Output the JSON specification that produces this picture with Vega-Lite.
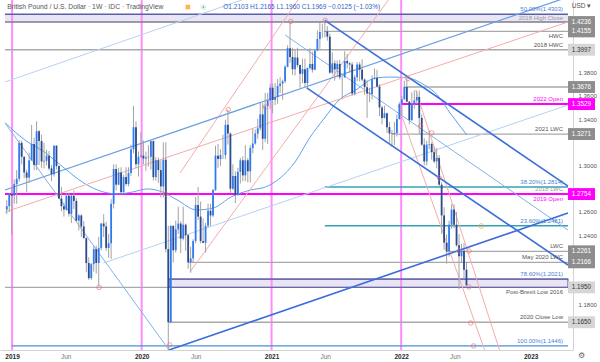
{
"$schema": "https://vega.github.io/schema/vega-lite/v6.json",
"width": 573,
"height": 350,
"autosize": {"type": "none"},
"padding": {"left": 0, "top": 0, "right": 27, "bottom": 12},
"background": "#ffffff",
"config": {"view": {"stroke": null}, "font": "Liberation Sans", "axis": {"grid": false}},
"resolve": {"axis": {"x": "independent", "y": "independent"}},
"datasets": {
"candles": [
{"d":"2018-12-17","o":1.2620,"h":1.2700,"l":1.2580,"c":1.2650},
{"d":"2018-12-24","o":1.2650,"h":1.2760,"l":1.2600,"c":1.2754},
{"d":"2018-12-31","o":1.2754,"h":1.2815,"l":1.2405,"c":1.2740},
{"d":"2019-01-07","o":1.2740,"h":1.2880,"l":1.2670,"c":1.2840},
{"d":"2019-01-14","o":1.2840,"h":1.2960,"l":1.2670,"c":1.2885},
{"d":"2019-01-21","o":1.2885,"h":1.3218,"l":1.2860,"c":1.3195},
{"d":"2019-01-28","o":1.3195,"h":1.3215,"l":1.3010,"c":1.3075},
{"d":"2019-02-04","o":1.3075,"h":1.3080,"l":1.2890,"c":1.2940},
{"d":"2019-02-11","o":1.2940,"h":1.2965,"l":1.2773,"c":1.2895},
{"d":"2019-02-18","o":1.2895,"h":1.3110,"l":1.2850,"c":1.3045},
{"d":"2019-02-25","o":1.3045,"h":1.3350,"l":1.3040,"c":1.3185},
{"d":"2019-03-04","o":1.3185,"h":1.3240,"l":1.2960,"c":1.3005},
{"d":"2019-03-11","o":1.3005,"h":1.3381,"l":1.2960,"c":1.3295},
{"d":"2019-03-18","o":1.3295,"h":1.3305,"l":1.3005,"c":1.3210},
{"d":"2019-03-25","o":1.3210,"h":1.3265,"l":1.2980,"c":1.3035},
{"d":"2019-04-01","o":1.3035,"h":1.3195,"l":1.2975,"c":1.3040},
{"d":"2019-04-08","o":1.3040,"h":1.3135,"l":1.3000,"c":1.3085},
{"d":"2019-04-15","o":1.3085,"h":1.3125,"l":1.2960,"c":1.2975},
{"d":"2019-04-22","o":1.2975,"h":1.3005,"l":1.2865,"c":1.2925},
{"d":"2019-04-29","o":1.2925,"h":1.3175,"l":1.2905,"c":1.3170},
{"d":"2019-05-06","o":1.3170,"h":1.3175,"l":1.2965,"c":1.2995},
{"d":"2019-05-13","o":1.2995,"h":1.3000,"l":1.2710,"c":1.2715},
{"d":"2019-05-20","o":1.2715,"h":1.2815,"l":1.2605,"c":1.2650},
{"d":"2019-05-27","o":1.2650,"h":1.2680,"l":1.2560,"c":1.2620},
{"d":"2019-06-03","o":1.2620,"h":1.2765,"l":1.2610,"c":1.2740},
{"d":"2019-06-10","o":1.2740,"h":1.2765,"l":1.2560,"c":1.2585},
{"d":"2019-06-17","o":1.2585,"h":1.2745,"l":1.2505,"c":1.2740},
{"d":"2019-06-24","o":1.2740,"h":1.2785,"l":1.2625,"c":1.2695},
{"d":"2019-07-01","o":1.2695,"h":1.2720,"l":1.2520,"c":1.2525},
{"d":"2019-07-08","o":1.2525,"h":1.2580,"l":1.2440,"c":1.2570},
{"d":"2019-07-15","o":1.2570,"h":1.2580,"l":1.2385,"c":1.2475},
{"d":"2019-07-22","o":1.2475,"h":1.2520,"l":1.2370,"c":1.2375},
{"d":"2019-07-29","o":1.2375,"h":1.2380,"l":1.2080,"c":1.2160},
{"d":"2019-08-05","o":1.2160,"h":1.2210,"l":1.2015,"c":1.2030},
{"d":"2019-08-12","o":1.2030,"h":1.2160,"l":1.2015,"c":1.2150},
{"d":"2019-08-19","o":1.2150,"h":1.2310,"l":1.2085,"c":1.2280},
{"d":"2019-08-26","o":1.2280,"h":1.2310,"l":1.2070,"c":1.2160},
{"d":"2019-09-02","o":1.2160,"h":1.2385,"l":1.1959,"c":1.2290},
{"d":"2019-09-09","o":1.2290,"h":1.2505,"l":1.2270,"c":1.2500},
{"d":"2019-09-16","o":1.2500,"h":1.2580,"l":1.2385,"c":1.2475},
{"d":"2019-09-23","o":1.2475,"h":1.2515,"l":1.2265,"c":1.2290},
{"d":"2019-09-30","o":1.2290,"h":1.2410,"l":1.2205,"c":1.2330},
{"d":"2019-10-07","o":1.2330,"h":1.2710,"l":1.2195,"c":1.2670},
{"d":"2019-10-14","o":1.2670,"h":1.3010,"l":1.2630,"c":1.2970},
{"d":"2019-10-21","o":1.2970,"h":1.3010,"l":1.2785,"c":1.2835},
{"d":"2019-10-28","o":1.2835,"h":1.2980,"l":1.2830,"c":1.2940},
{"d":"2019-11-04","o":1.2940,"h":1.2985,"l":1.2765,"c":1.2770},
{"d":"2019-11-11","o":1.2770,"h":1.2920,"l":1.2765,"c":1.2900},
{"d":"2019-11-18","o":1.2900,"h":1.2985,"l":1.2825,"c":1.2840},
{"d":"2019-11-25","o":1.2840,"h":1.2985,"l":1.2820,"c":1.2935},
{"d":"2019-12-02","o":1.2935,"h":1.3180,"l":1.2910,"c":1.3140},
{"d":"2019-12-09","o":1.3140,"h":1.3514,"l":1.3105,"c":1.3330},
{"d":"2019-12-16","o":1.3330,"h":1.3380,"l":1.2975,"c":1.3010},
{"d":"2019-12-23","o":1.3010,"h":1.3120,"l":1.2905,"c":1.3075},
{"d":"2019-12-30","o":1.3075,"h":1.3285,"l":1.3070,"c":1.3085},
{"d":"2020-01-06","o":1.3085,"h":1.3215,"l":1.3010,"c":1.3060},
{"d":"2020-01-13","o":1.3060,"h":1.3120,"l":1.2955,"c":1.3070},
{"d":"2020-01-20","o":1.3070,"h":1.3175,"l":1.2990,"c":1.3075},
{"d":"2020-01-27","o":1.3075,"h":1.3215,"l":1.2965,"c":1.3210},
{"d":"2020-02-03","o":1.3210,"h":1.3215,"l":1.2870,"c":1.2900},
{"d":"2020-02-10","o":1.2900,"h":1.3070,"l":1.2870,"c":1.3045},
{"d":"2020-02-17","o":1.3045,"h":1.3070,"l":1.2850,"c":1.2960},
{"d":"2020-02-24","o":1.2960,"h":1.3045,"l":1.2725,"c":1.2820},
{"d":"2020-03-02","o":1.2820,"h":1.3200,"l":1.2725,"c":1.3050},
{"d":"2020-03-09","o":1.3050,"h":1.3200,"l":1.2250,"c":1.2280},
{"d":"2020-03-16","o":1.2280,"h":1.2480,"l":1.1409,"c":1.1650},
{"d":"2020-03-23","o":1.1650,"h":1.2485,"l":1.1640,"c":1.2480},
{"d":"2020-03-30","o":1.2480,"h":1.2485,"l":1.2165,"c":1.2270},
{"d":"2020-04-06","o":1.2270,"h":1.2525,"l":1.2250,"c":1.2450},
{"d":"2020-04-13","o":1.2450,"h":1.2645,"l":1.2410,"c":1.2500},
{"d":"2020-04-20","o":1.2500,"h":1.2520,"l":1.2245,"c":1.2370},
{"d":"2020-04-27","o":1.2370,"h":1.2645,"l":1.2355,"c":1.2490},
{"d":"2020-05-04","o":1.2490,"h":1.2500,"l":1.2265,"c":1.2400},
{"d":"2020-05-11","o":1.2400,"h":1.2410,"l":1.2110,"c":1.2166},
{"d":"2020-05-18","o":1.2166,"h":1.2300,"l":1.2076,"c":1.2200},
{"d":"2020-05-25","o":1.2200,"h":1.2365,"l":1.2160,"c":1.2350},
{"d":"2020-06-01","o":1.2350,"h":1.2730,"l":1.2330,"c":1.2660},
{"d":"2020-06-08","o":1.2660,"h":1.2815,"l":1.2530,"c":1.2560},
{"d":"2020-06-15","o":1.2560,"h":1.2690,"l":1.2330,"c":1.2350},
{"d":"2020-06-22","o":1.2350,"h":1.2545,"l":1.2330,"c":1.2335},
{"d":"2020-06-29","o":1.2335,"h":1.2505,"l":1.2250,"c":1.2480},
{"d":"2020-07-06","o":1.2480,"h":1.2670,"l":1.2465,"c":1.2610},
{"d":"2020-07-13","o":1.2610,"h":1.2670,"l":1.2480,"c":1.2570},
{"d":"2020-07-20","o":1.2570,"h":1.2800,"l":1.2555,"c":1.2790},
{"d":"2020-07-27","o":1.2790,"h":1.3170,"l":1.2780,"c":1.3085},
{"d":"2020-08-03","o":1.3085,"h":1.3185,"l":1.2980,"c":1.3055},
{"d":"2020-08-10","o":1.3055,"h":1.3140,"l":1.2995,"c":1.3090},
{"d":"2020-08-17","o":1.3090,"h":1.3265,"l":1.3055,"c":1.3090},
{"d":"2020-08-24","o":1.3090,"h":1.3395,"l":1.3055,"c":1.3350},
{"d":"2020-08-31","o":1.3350,"h":1.3482,"l":1.3180,"c":1.3275},
{"d":"2020-09-07","o":1.3275,"h":1.3285,"l":1.2765,"c":1.2800},
{"d":"2020-09-14","o":1.2800,"h":1.3010,"l":1.2790,"c":1.2910},
{"d":"2020-09-21","o":1.2910,"h":1.2950,"l":1.2676,"c":1.2745},
{"d":"2020-09-28","o":1.2745,"h":1.2980,"l":1.2740,"c":1.2945},
{"d":"2020-10-05","o":1.2945,"h":1.3065,"l":1.2845,"c":1.3045},
{"d":"2020-10-12","o":1.3045,"h":1.3080,"l":1.2865,"c":1.2915},
{"d":"2020-10-19","o":1.2915,"h":1.3175,"l":1.2865,"c":1.3045},
{"d":"2020-10-26","o":1.3045,"h":1.3065,"l":1.2855,"c":1.2950},
{"d":"2020-11-02","o":1.2950,"h":1.3175,"l":1.2855,"c":1.3150},
{"d":"2020-11-09","o":1.3150,"h":1.3315,"l":1.3105,"c":1.3190},
{"d":"2020-11-16","o":1.3190,"h":1.3310,"l":1.3180,"c":1.3275},
{"d":"2020-11-23","o":1.3275,"h":1.3400,"l":1.3230,"c":1.3320},
{"d":"2020-11-30","o":1.3320,"h":1.3540,"l":1.3300,"c":1.3440},
{"d":"2020-12-07","o":1.3440,"h":1.3540,"l":1.3135,"c":1.3230},
{"d":"2020-12-14","o":1.3230,"h":1.3625,"l":1.3200,"c":1.3510},
{"d":"2020-12-21","o":1.3510,"h":1.3625,"l":1.3185,"c":1.3560},
{"d":"2020-12-28","o":1.3560,"h":1.3705,"l":1.3485,"c":1.3670},
{"d":"2021-01-04","o":1.3670,"h":1.3705,"l":1.3450,"c":1.3565},
{"d":"2021-01-11","o":1.3565,"h":1.3710,"l":1.3520,"c":1.3590},
{"d":"2021-01-18","o":1.3590,"h":1.3745,"l":1.3530,"c":1.3685},
{"d":"2021-01-25","o":1.3685,"h":1.3760,"l":1.3625,"c":1.3705},
{"d":"2021-02-01","o":1.3705,"h":1.3740,"l":1.3565,"c":1.3725},
{"d":"2021-02-08","o":1.3725,"h":1.3865,"l":1.3710,"c":1.3850},
{"d":"2021-02-15","o":1.3850,"h":1.4035,"l":1.3845,"c":1.4010},
{"d":"2021-02-22","o":1.4010,"h":1.4241,"l":1.3885,"c":1.3935},
{"d":"2021-03-01","o":1.3935,"h":1.4015,"l":1.3780,"c":1.3830},
{"d":"2021-03-08","o":1.3830,"h":1.4000,"l":1.3775,"c":1.3930},
{"d":"2021-03-15","o":1.3930,"h":1.4015,"l":1.3845,"c":1.3865},
{"d":"2021-03-22","o":1.3865,"h":1.3870,"l":1.3670,"c":1.3790},
{"d":"2021-03-29","o":1.3790,"h":1.3920,"l":1.3710,"c":1.3830},
{"d":"2021-04-05","o":1.3830,"h":1.3920,"l":1.3670,"c":1.3710},
{"d":"2021-04-12","o":1.3710,"h":1.3845,"l":1.3669,"c":1.3840},
{"d":"2021-04-19","o":1.3840,"h":1.4010,"l":1.3825,"c":1.3875},
{"d":"2021-04-26","o":1.3875,"h":1.3980,"l":1.3800,"c":1.3825},
{"d":"2021-05-03","o":1.3825,"h":1.4000,"l":1.3820,"c":1.3990},
{"d":"2021-05-10","o":1.3990,"h":1.4165,"l":1.3985,"c":1.4090},
{"d":"2021-05-17","o":1.4090,"h":1.4235,"l":1.4005,"c":1.4150},
{"d":"2021-05-24","o":1.4150,"h":1.4220,"l":1.4100,"c":1.4150},
{"d":"2021-05-31","o":1.4150,"h":1.4250,"l":1.4105,"c":1.4155},
{"d":"2021-06-07","o":1.4155,"h":1.4200,"l":1.4075,"c":1.4110},
{"d":"2021-06-14","o":1.4110,"h":1.4135,"l":1.3790,"c":1.3800},
{"d":"2021-06-21","o":1.3800,"h":1.3975,"l":1.3785,"c":1.3880},
{"d":"2021-06-28","o":1.3880,"h":1.3905,"l":1.3730,"c":1.3830},
{"d":"2021-07-05","o":1.3830,"h":1.3905,"l":1.3760,"c":1.3875},
{"d":"2021-07-12","o":1.3875,"h":1.3910,"l":1.3740,"c":1.3760},
{"d":"2021-07-19","o":1.3760,"h":1.3785,"l":1.3570,"c":1.3760},
{"d":"2021-07-26","o":1.3760,"h":1.3985,"l":1.3755,"c":1.3900},
{"d":"2021-08-02","o":1.3900,"h":1.3960,"l":1.3835,"c":1.3880},
{"d":"2021-08-09","o":1.3880,"h":1.3890,"l":1.3800,"c":1.3870},
{"d":"2021-08-16","o":1.3870,"h":1.3890,"l":1.3600,"c":1.3620},
{"d":"2021-08-23","o":1.3620,"h":1.3780,"l":1.3605,"c":1.3760},
{"d":"2021-08-30","o":1.3760,"h":1.3890,"l":1.3725,"c":1.3870},
{"d":"2021-09-06","o":1.3870,"h":1.3890,"l":1.3725,"c":1.3825},
{"d":"2021-09-13","o":1.3825,"h":1.3915,"l":1.3725,"c":1.3740},
{"d":"2021-09-20","o":1.3740,"h":1.3750,"l":1.3610,"c":1.3675},
{"d":"2021-09-27","o":1.3675,"h":1.3735,"l":1.3410,"c":1.3620},
{"d":"2021-10-04","o":1.3620,"h":1.3670,"l":1.3545,"c":1.3615},
{"d":"2021-10-11","o":1.3615,"h":1.3775,"l":1.3570,"c":1.3745},
{"d":"2021-10-18","o":1.3745,"h":1.3835,"l":1.3740,"c":1.3755},
{"d":"2021-10-25","o":1.3755,"h":1.3825,"l":1.3670,"c":1.3680},
{"d":"2021-11-01","o":1.3680,"h":1.3700,"l":1.3425,"c":1.3500},
{"d":"2021-11-08","o":1.3500,"h":1.3515,"l":1.3355,"c":1.3410},
{"d":"2021-11-15","o":1.3410,"h":1.3515,"l":1.3405,"c":1.3450},
{"d":"2021-11-22","o":1.3450,"h":1.3455,"l":1.3280,"c":1.3330},
{"d":"2021-11-29","o":1.3330,"h":1.3375,"l":1.3195,"c":1.3275},
{"d":"2021-12-06","o":1.3275,"h":1.3305,"l":1.3161,"c":1.3271},
{"d":"2021-12-13","o":1.3271,"h":1.3375,"l":1.3175,"c":1.3280},
{"d":"2021-12-20","o":1.3280,"h":1.3440,"l":1.3250,"c":1.3400},
{"d":"2021-12-27","o":1.3400,"h":1.3545,"l":1.3395,"c":1.3529},
{"d":"2022-01-03","o":1.3529,"h":1.3600,"l":1.3430,"c":1.3570},
{"d":"2022-01-10","o":1.3570,"h":1.3730,"l":1.3565,"c":1.3676},
{"d":"2022-01-17","o":1.3676,"h":1.3748,"l":1.3545,"c":1.3550},
{"d":"2022-01-24","o":1.3550,"h":1.3555,"l":1.3355,"c":1.3390},
{"d":"2022-01-31","o":1.3390,"h":1.3630,"l":1.3385,"c":1.3530},
{"d":"2022-02-07","o":1.3530,"h":1.3645,"l":1.3490,"c":1.3560},
{"d":"2022-02-14","o":1.3560,"h":1.3645,"l":1.3530,"c":1.3590},
{"d":"2022-02-21","o":1.3590,"h":1.3645,"l":1.3270,"c":1.3410},
{"d":"2022-02-28","o":1.3410,"h":1.3440,"l":1.3170,"c":1.3180},
{"d":"2022-03-07","o":1.3180,"h":1.3235,"l":1.3000,"c":1.3035},
{"d":"2022-03-14","o":1.3035,"h":1.3215,"l":1.3000,"c":1.3180},
{"d":"2022-03-21","o":1.3180,"h":1.3300,"l":1.3140,"c":1.3185},
{"d":"2022-03-28","o":1.3185,"h":1.3200,"l":1.3050,"c":1.3115},
{"d":"2022-04-04","o":1.3115,"h":1.3160,"l":1.3020,"c":1.3035},
{"d":"2022-04-11","o":1.3035,"h":1.3150,"l":1.2975,"c":1.3065},
{"d":"2022-04-18","o":1.3065,"h":1.3090,"l":1.2825,"c":1.2835},
{"d":"2022-04-25","o":1.2835,"h":1.2855,"l":1.2410,"c":1.2570},
{"d":"2022-05-02","o":1.2570,"h":1.2640,"l":1.2275,"c":1.2336},
{"d":"2022-05-09","o":1.2336,"h":1.2405,"l":1.2155,"c":1.2261},
{"d":"2022-05-16","o":1.2261,"h":1.2525,"l":1.2215,"c":1.2490},
{"d":"2022-05-23","o":1.2490,"h":1.2666,"l":1.2455,"c":1.2620},
{"d":"2022-05-30","o":1.2620,"h":1.2665,"l":1.2460,"c":1.2490},
{"d":"2022-06-06","o":1.2490,"h":1.2600,"l":1.2300,"c":1.2313},
{"d":"2022-06-13","o":1.2313,"h":1.2410,"l":1.1934,"c":1.2218},
{"d":"2022-06-20","o":1.2218,"h":1.2325,"l":1.2160,"c":1.2266},
{"d":"2022-06-27","o":1.2266,"h":1.2330,"l":1.2030,"c":1.2103},
{"d":"2022-07-04","o":1.2103,"h":1.2165,"l":1.1960,"c":1.1969}
],
"ma": [
{"d":"2018-12-13","p":1.3366},{"d":"2019-02-06","p":1.3220},{"d":"2019-04-02","p":1.3116},{"d":"2019-05-28","p":1.2978},
{"d":"2019-07-22","p":1.2849},{"d":"2019-09-15","p":1.2772},{"d":"2019-10-27","p":1.2755},{"d":"2019-12-07","p":1.2772},
{"d":"2020-01-18","p":1.2798},{"d":"2020-02-28","p":1.2772},{"d":"2020-04-10","p":1.2703},{"d":"2020-06-04","p":1.2617},
{"d":"2020-07-21","p":1.2634},{"d":"2020-09-09","p":1.2729},{"d":"2020-11-03","p":1.2789},{"d":"2020-12-15","p":1.2815},
{"d":"2021-01-25","p":1.2892},{"d":"2021-03-08","p":1.3030},{"d":"2021-04-18","p":1.3237},{"d":"2021-05-30","p":1.3409},
{"d":"2021-07-10","p":1.3564},{"d":"2021-08-26","p":1.3650},{"d":"2021-10-21","p":1.3754},{"d":"2021-12-04","p":1.3762},
{"d":"2022-01-20","p":1.3754},{"d":"2022-03-08","p":1.3693},{"d":"2022-04-13","p":1.3607},{"d":"2022-05-19","p":1.3452},
{"d":"2022-07-05","p":1.3263}
],
"ln": [
{"id":"A","d":"2018-12-12","p":1.3719},{"id":"A","d":"2023-04-16","p":1.5399},
{"id":"B","d":"2018-12-12","p":1.2789},{"id":"B","d":"2023-04-16","p":1.4451},
{"id":"C","d":"2020-03-18","p":1.1411},{"id":"C","d":"2023-04-16","p":1.2591},
{"id":"D","d":"2019-09-15","p":1.2160},{"id":"D","d":"2023-04-16","p":1.3521},
{"id":"E","d":"2018-12-12","p":1.3366},{"id":"E","d":"2020-03-18","p":1.1411},
{"id":"F","d":"2018-12-12","p":1.2599},{"id":"F","d":"2023-04-16","p":1.4236},
{"id":"G","d":"2020-04-18","p":1.2935},{"id":"G","d":"2021-03-16","p":1.4426},
{"id":"H","d":"2020-05-16","p":1.2083},{"id":"H","d":"2021-11-26","p":1.4426},
{"id":"U","d":"2021-05-31","p":1.4250},{"id":"U","d":"2023-04-16","p":1.2823},
{"id":"M","d":"2021-02-08","p":1.4124},{"id":"M","d":"2023-04-16","p":1.2444},
{"id":"L","d":"2021-04-10","p":1.3668},{"id":"L","d":"2023-04-16","p":1.2143},
{"id":"R1","d":"2022-02-11","p":1.3650},{"id":"R1","d":"2022-10-05","p":1.1411},
{"id":"R2","d":"2021-12-23","p":1.3521},{"id":"R2","d":"2022-08-24","p":1.1411}
],
"lv": [
{"p":1.4303,"from":"2018-12-12","to":"2023-04-16","g":"fibA","lab":"50.00%(1.4303)"},
{"p":1.4236,"from":"2018-12-12","to":"2023-04-16","g":"dark","lab":""},
{"p":1.4155,"from":"2021-05-31","to":"2023-04-16","g":"grey","lab":"HWC"},
{"p":1.3997,"from":"2018-12-12","to":"2023-04-16","g":"grey","lab":"2018 HWC"},
{"p":1.3676,"from":"2022-01-10","to":"2023-04-16","g":"grey","lab":""},
{"p":1.3529,"from":"2022-01-01","to":"2023-04-16","g":"open","lab":"2022 Open"},
{"p":1.3271,"from":"2021-12-06","to":"2023-04-16","g":"grey","lab":"2021 LWC"},
{"p":1.2814,"from":"2021-05-31","to":"2023-04-16","g":"fibT","lab":"38.20%(1.2814)"},
{"p":1.2754,"from":"2018-12-12","to":"2023-04-16","g":"open","lab":"2019 Open"},
{"p":1.2481,"from":"2021-05-31","to":"2023-04-16","g":"fibT","lab":"23.60%(1.2481)"},
{"p":1.2261,"from":"2022-05-09","to":"2023-04-16","g":"grey","lab":"LWC"},
{"p":1.2166,"from":"2020-05-11","to":"2023-04-16","g":"grey","lab":"May 2020 LWC"},
{"p":1.2021,"from":"2020-03-18","to":"2023-04-16","g":"band","lab":"78.60%(1.2021)"},
{"p":1.1950,"from":"2018-12-12","to":"2023-04-16","g":"grey","lab":"Post-Brexit Low 2016"},
{"p":1.1650,"from":"2020-03-18","to":"2023-04-16","g":"grey","lab":"2020 Close Low"},
{"p":1.1446,"from":"2018-12-31","to":"2023-04-16","g":"fibB","lab":"100.00%(1.1446)"}
],
"bands": [
{"from":"2018-12-12","to":"2023-04-16","lo":1.4236,"hi":1.4303,"lab":"2018 High Close"},
{"from":"2020-03-18","to":"2023-04-16","lo":1.1950,"hi":1.2021,"lab":"78.6% zone"}
],
"notes": [
{"lab":"2018 High Close","p":1.4270},
{"lab":"2018 LWC","p":1.2795}
],
"yr": [{"d":"2019-01-01"},{"d":"2020-01-01"},{"d":"2021-01-01"},{"d":"2022-01-01"}],
"pts": [
{"d":"2019-09-03","p":1.1950},{"d":"2020-03-09","p":1.2754},{"d":"2020-03-20","p":1.1455},
{"d":"2020-09-01","p":1.3482},{"d":"2020-12-15","p":1.3504},{"d":"2021-02-24","p":1.4241},
{"d":"2021-06-01","p":1.4250},{"d":"2022-01-20","p":1.3748},{"d":"2022-02-25","p":1.3340},
{"d":"2022-03-28","p":1.3280},{"d":"2022-04-19","p":1.2892},{"d":"2022-06-13","p":1.2264},
{"d":"2022-07-11","p":1.2264},{"d":"2022-07-11","p":1.1954},{"d":"2022-07-16","p":1.1643},
{"d":"2022-07-24","p":1.1446}
],
"opt": [{"d":"2022-08-15","p":1.2479}]
},
"layer": [
{"data":{"name":"bands"},"mark":{"type":"rect","color":"#e9e5f4"},
 "encoding":{
  "x":{"field":"from","type":"temporal","scale":{"type":"utc","domain":[{"year":2018,"month":12,"date":12,"utc":true},{"year":2023,"month":4,"date":16,"utc":true}]},"axis":null},
  "x2":{"field":"to"},
  "y":{"field":"lo","type":"quantitative","scale":{"domain":[1.14108,1.44255],"nice":false,"zero":false},"axis":null},
  "y2":{"field":"hi"}}},
{"data":{"name":"yr"},"mark":{"type":"rule","color":"#ff8dff","strokeWidth":2},
 "encoding":{"x":{"field":"d","type":"temporal","scale":{"type":"utc","domain":[{"year":2018,"month":12,"date":12,"utc":true},{"year":2023,"month":4,"date":16,"utc":true}]},"axis":null}}},
{"data":{"name":"lv"},"transform":[{"filter":"datum.g == 'grey'"}],"mark":{"type":"rule","color":"#a9a9a9","strokeWidth":1.3},
 "encoding":{
  "x":{"field":"from","type":"temporal","scale":{"type":"utc","domain":[{"year":2018,"month":12,"date":12,"utc":true},{"year":2023,"month":4,"date":16,"utc":true}]},"axis":null},
  "x2":{"field":"to"},
  "y":{"field":"p","type":"quantitative","scale":{"domain":[1.14108,1.44255],"nice":false,"zero":false},"axis":null}}},
{"data":{"name":"lv"},"transform":[{"filter":"datum.g == 'dark'"}],"mark":{"type":"rule","color":"#7c7c90","strokeWidth":1.3},
 "encoding":{
  "x":{"field":"from","type":"temporal","scale":{"type":"utc","domain":[{"year":2018,"month":12,"date":12,"utc":true},{"year":2023,"month":4,"date":16,"utc":true}]},"axis":null},
  "x2":{"field":"to"},
  "y":{"field":"p","type":"quantitative","scale":{"domain":[1.14108,1.44255],"nice":false,"zero":false},"axis":null}}},
{"data":{"name":"lv"},"transform":[{"filter":"datum.g == 'fibA' || datum.g == 'band'"}],"mark":{"type":"rule","color":"#5b5ea8","strokeWidth":1.4},
 "encoding":{
  "x":{"field":"from","type":"temporal","scale":{"type":"utc","domain":[{"year":2018,"month":12,"date":12,"utc":true},{"year":2023,"month":4,"date":16,"utc":true}]},"axis":null},
  "x2":{"field":"to"},
  "y":{"field":"p","type":"quantitative","scale":{"domain":[1.14108,1.44255],"nice":false,"zero":false},"axis":null}}},
{"data":{"name":"lv"},"transform":[{"filter":"datum.g == 'fibT'"}],"mark":{"type":"rule","color":"#34a0b6","strokeWidth":1.5},
 "encoding":{
  "x":{"field":"from","type":"temporal","scale":{"type":"utc","domain":[{"year":2018,"month":12,"date":12,"utc":true},{"year":2023,"month":4,"date":16,"utc":true}]},"axis":null},
  "x2":{"field":"to"},
  "y":{"field":"p","type":"quantitative","scale":{"domain":[1.14108,1.44255],"nice":false,"zero":false},"axis":null}}},
{"data":{"name":"lv"},"transform":[{"filter":"datum.g == 'fibB'"}],"mark":{"type":"rule","color":"#4a8fdc","strokeWidth":1.4},
 "encoding":{
  "x":{"field":"from","type":"temporal","scale":{"type":"utc","domain":[{"year":2018,"month":12,"date":12,"utc":true},{"year":2023,"month":4,"date":16,"utc":true}]},"axis":null},
  "x2":{"field":"to"},
  "y":{"field":"p","type":"quantitative","scale":{"domain":[1.14108,1.44255],"nice":false,"zero":false},"axis":null}}},
{"data":{"name":"lv"},"transform":[{"filter":"datum.g == 'open'"}],"mark":{"type":"rule","color":"#ff00ff","strokeWidth":2},
 "encoding":{
  "x":{"field":"from","type":"temporal","scale":{"type":"utc","domain":[{"year":2018,"month":12,"date":12,"utc":true},{"year":2023,"month":4,"date":16,"utc":true}]},"axis":null},
  "x2":{"field":"to"},
  "y":{"field":"p","type":"quantitative","scale":{"domain":[1.14108,1.44255],"nice":false,"zero":false},"axis":null}}},
{"data":{"name":"bands"},"transform":[{"filter":"datum.lo < 1.3"}],"mark":{"type":"rect","fill":null,"fillOpacity":0,"stroke":"#6b68ab","strokeWidth":1.2},
 "encoding":{
  "x":{"field":"from","type":"temporal","scale":{"type":"utc","domain":[{"year":2018,"month":12,"date":12,"utc":true},{"year":2023,"month":4,"date":16,"utc":true}]},"axis":null},
  "x2":{"field":"to"},
  "y":{"field":"lo","type":"quantitative","scale":{"domain":[1.14108,1.44255],"nice":false,"zero":false},"axis":null},
  "y2":{"field":"hi"}}},
{"data":{"name":"ma"},"mark":{"type":"line","color":"#5ea3ea","strokeWidth":1,"interpolate":"monotone","clip":true},
 "encoding":{
  "x":{"field":"d","type":"temporal","scale":{"type":"utc","domain":[{"year":2018,"month":12,"date":12,"utc":true},{"year":2023,"month":4,"date":16,"utc":true}]},"axis":null},
  "y":{"field":"p","type":"quantitative","scale":{"domain":[1.14108,1.44255],"nice":false,"zero":false},"axis":null}}},
{"data":{"name":"ln"},"transform":[{"filter":{"field":"id","oneOf":["A","D"]}}],"mark":{"type":"line","color":"#b6d2f3","strokeWidth":1,"clip":true},
 "encoding":{
  "x":{"field":"d","type":"temporal","scale":{"type":"utc","domain":[{"year":2018,"month":12,"date":12,"utc":true},{"year":2023,"month":4,"date":16,"utc":true}]},"axis":null},
  "y":{"field":"p","type":"quantitative","scale":{"domain":[1.14108,1.44255],"nice":false,"zero":false},"axis":null},
  "detail":{"field":"id"}}},
{"data":{"name":"ln"},"transform":[{"filter":{"field":"id","oneOf":["E","M"]}}],"mark":{"type":"line","color":"#80b2ea","strokeWidth":1,"clip":true},
 "encoding":{
  "x":{"field":"d","type":"temporal","scale":{"type":"utc","domain":[{"year":2018,"month":12,"date":12,"utc":true},{"year":2023,"month":4,"date":16,"utc":true}]},"axis":null},
  "y":{"field":"p","type":"quantitative","scale":{"domain":[1.14108,1.44255],"nice":false,"zero":false},"axis":null},
  "detail":{"field":"id"}}},
{"data":{"name":"ln"},"transform":[{"filter":{"field":"id","oneOf":["F","G","H","R1","R2"]}}],"mark":{"type":"line","color":"#f5abab","strokeWidth":1,"clip":true},
 "encoding":{
  "x":{"field":"d","type":"temporal","scale":{"type":"utc","domain":[{"year":2018,"month":12,"date":12,"utc":true},{"year":2023,"month":4,"date":16,"utc":true}]},"axis":null},
  "y":{"field":"p","type":"quantitative","scale":{"domain":[1.14108,1.44255],"nice":false,"zero":false},"axis":null},
  "detail":{"field":"id"}}},
{"data":{"name":"ln"},"transform":[{"filter":{"field":"id","oneOf":["B"]}}],"mark":{"type":"line","color":"#6c9fe2","strokeWidth":1.3,"clip":true},
 "encoding":{
  "x":{"field":"d","type":"temporal","scale":{"type":"utc","domain":[{"year":2018,"month":12,"date":12,"utc":true},{"year":2023,"month":4,"date":16,"utc":true}]},"axis":null},
  "y":{"field":"p","type":"quantitative","scale":{"domain":[1.14108,1.44255],"nice":false,"zero":false},"axis":null},
  "detail":{"field":"id"}}},
{"data":{"name":"candles"},"mark":{"type":"rule","color":"#a3a3a3","strokeWidth":1},
 "encoding":{
  "x":{"field":"d","type":"temporal","scale":{"type":"utc","domain":[{"year":2018,"month":12,"date":12,"utc":true},{"year":2023,"month":4,"date":16,"utc":true}]},
   "axis":{"values":[{"year":2019,"month":1,"date":1,"utc":true},{"year":2019,"month":6,"date":1,"utc":true},{"year":2020,"month":1,"date":1,"utc":true},{"year":2020,"month":6,"date":1,"utc":true},{"year":2021,"month":1,"date":1,"utc":true},{"year":2021,"month":6,"date":1,"utc":true},{"year":2022,"month":1,"date":1,"utc":true},{"year":2022,"month":6,"date":1,"utc":true},{"year":2023,"month":1,"date":1,"utc":true}],
    "labelExpr":"utcFormat(datum.value, '%m') == '01' ? utcFormat(datum.value, '%Y') : utcFormat(datum.value, '%b')",
    "title":null,"ticks":false,"grid":false,"domainColor":"#d2d2d2","labelFontSize":6.5,"labelPadding":3,"labelFlush":false,"labelOverlap":false,"labelBound":false,
    "labelColor":{"condition":{"test":"utcFormat(datum.value, '%m') == '01'","value":"#2a2a2a"},"value":"#777777"},
    "labelFontWeight":{"condition":{"test":"utcFormat(datum.value, '%m') == '01'","value":"bold"},"value":"normal"}}},
  "y":{"field":"l","type":"quantitative","scale":{"domain":[1.14108,1.44255],"nice":false,"zero":false},
   "axis":{"orient":"right","values":[1.18,1.24,1.26,1.3,1.34,1.36,1.38],"format":".4f","title":null,"ticks":false,"grid":false,"domainColor":"#d2d2d2","labelFontSize":6,"labelColor":"#555555","labelPadding":5,"labelOverlap":false,"labelBound":false}},
  "y2":{"field":"h"}}},
{"data":{"name":"candles"},"mark":{"type":"bar","size":1.8},
 "encoding":{
  "x":{"field":"d","type":"temporal","scale":{"type":"utc","domain":[{"year":2018,"month":12,"date":12,"utc":true},{"year":2023,"month":4,"date":16,"utc":true}]},"axis":null},
  "y":{"field":"o","type":"quantitative","scale":{"domain":[1.14108,1.44255],"nice":false,"zero":false},"axis":null},
  "y2":{"field":"c"},
  "color":{"condition":{"test":"datum.c >= datum.o","value":"#2f7bf5"},"value":"#2b4b8c"}}},
{"data":{"name":"ln"},"transform":[{"filter":{"field":"id","oneOf":["C","U","L"]}}],"mark":{"type":"line","color":"#3b6edb","strokeWidth":1.6,"clip":true},
 "encoding":{
  "x":{"field":"d","type":"temporal","scale":{"type":"utc","domain":[{"year":2018,"month":12,"date":12,"utc":true},{"year":2023,"month":4,"date":16,"utc":true}]},"axis":null},
  "y":{"field":"p","type":"quantitative","scale":{"domain":[1.14108,1.44255],"nice":false,"zero":false},"axis":null},
  "detail":{"field":"id"}}},
{"data":{"name":"pts"},"mark":{"type":"point","shape":"circle","filled":false,"color":"#ee7676","strokeWidth":1,"size":20},
 "encoding":{
  "x":{"field":"d","type":"temporal","scale":{"type":"utc","domain":[{"year":2018,"month":12,"date":12,"utc":true},{"year":2023,"month":4,"date":16,"utc":true}]},"axis":null},
  "y":{"field":"p","type":"quantitative","scale":{"domain":[1.14108,1.44255],"nice":false,"zero":false},"axis":null}}},
{"data":{"name":"opt"},"mark":{"type":"point","shape":"circle","filled":false,"color":"#f2a23c","strokeWidth":1,"size":22},
 "encoding":{
  "x":{"field":"d","type":"temporal","scale":{"type":"utc","domain":[{"year":2018,"month":12,"date":12,"utc":true},{"year":2023,"month":4,"date":16,"utc":true}]},"axis":null},
  "y":{"field":"p","type":"quantitative","scale":{"domain":[1.14108,1.44255],"nice":false,"zero":false},"axis":null}}},
{"data":{"name":"lv"},"transform":[{"filter":{"field":"lab","oneOf":["50.00%(1.4303)","2018 HWC","2022 Open","2021 LWC","38.20%(1.2814)","23.60%(1.2481)","LWC","May 2020 LWC","78.60%(1.2021)","2020 Close Low","100.00%(1.1446)"]}}],
 "mark":{"type":"text","align":"right","baseline":"middle","dy":-5,"fontSize":6},
 "encoding":{
  "x":{"datum":{"year":2023,"month":4,"date":2,"utc":true},"type":"temporal","scale":{"type":"utc","domain":[{"year":2018,"month":12,"date":12,"utc":true},{"year":2023,"month":4,"date":16,"utc":true}]},"axis":null},
  "y":{"field":"p","type":"quantitative","scale":{"domain":[1.14108,1.44255],"nice":false,"zero":false},"axis":null},
  "text":{"field":"lab"},
  "color":{"field":"g","type":"nominal","legend":null,"scale":{"domain":["fibA","fibT","fibB","band","grey","dark","open"],"range":["#4a7fd0","#3d86cf","#4a7fd0","#4a7fd0","#555555","#9a9a9a","#ff00ff"]}}}},
{"data":{"name":"lv"},"transform":[{"filter":{"field":"lab","oneOf":["HWC","2019 Open","Post-Brexit Low 2016"]}}],
 "mark":{"type":"text","align":"right","baseline":"middle","dy":5,"fontSize":6},
 "encoding":{
  "x":{"datum":{"year":2023,"month":4,"date":2,"utc":true},"type":"temporal","scale":{"type":"utc","domain":[{"year":2018,"month":12,"date":12,"utc":true},{"year":2023,"month":4,"date":16,"utc":true}]},"axis":null},
  "y":{"field":"p","type":"quantitative","scale":{"domain":[1.14108,1.44255],"nice":false,"zero":false},"axis":null},
  "text":{"field":"lab"},
  "color":{"field":"g","type":"nominal","legend":null,"scale":{"domain":["fibA","fibT","fibB","band","grey","dark","open"],"range":["#4a7fd0","#3d86cf","#4a7fd0","#4a7fd0","#555555","#9a9a9a","#ff00ff"]}}}},
{"data":{"name":"notes"},
 "mark":{"type":"text","align":"right","baseline":"middle","fontSize":6,"color":"#9a9a9a"},
 "encoding":{
  "x":{"datum":{"year":2023,"month":4,"date":2,"utc":true},"type":"temporal","scale":{"type":"utc","domain":[{"year":2018,"month":12,"date":12,"utc":true},{"year":2023,"month":4,"date":16,"utc":true}]},"axis":null},
  "y":{"field":"p","type":"quantitative","scale":{"domain":[1.14108,1.44255],"nice":false,"zero":false},"axis":null},
  "text":{"field":"lab"}}},
{"data":{"name":"lv"},"transform":[{"filter":{"field":"p","oneOf":[1.4236,1.4155,1.3676,1.3271,1.2261,1.2166]}}],
 "mark":{"type":"point","shape":"M-1,-0.44L1,-0.44L1,0.44L-1,0.44Z","filled":true,"color":"#8d8d8d","opacity":1,"size":729},
 "encoding":{
  "x":{"datum":{"year":2023,"month":5,"date":24,"utc":true},"type":"temporal","scale":{"type":"utc","domain":[{"year":2018,"month":12,"date":12,"utc":true},{"year":2023,"month":4,"date":16,"utc":true}]},"axis":null},
  "y":{"field":"p","type":"quantitative","scale":{"domain":[1.14108,1.44255],"nice":false,"zero":false},"axis":null}}},
{"data":{"name":"lv"},"transform":[{"filter":{"field":"p","oneOf":[1.3997,1.1950,1.1650]}}],
 "mark":{"type":"point","shape":"M-1,-0.44L1,-0.44L1,0.44L-1,0.44Z","filled":true,"color":"#d6d6d6","opacity":1,"size":729},
 "encoding":{
  "x":{"datum":{"year":2023,"month":5,"date":24,"utc":true},"type":"temporal","scale":{"type":"utc","domain":[{"year":2018,"month":12,"date":12,"utc":true},{"year":2023,"month":4,"date":16,"utc":true}]},"axis":null},
  "y":{"field":"p","type":"quantitative","scale":{"domain":[1.14108,1.44255],"nice":false,"zero":false},"axis":null}}},
{"data":{"name":"lv"},"transform":[{"filter":"datum.g == 'open'"}],
 "mark":{"type":"point","shape":"M-1,-0.44L1,-0.44L1,0.44L-1,0.44Z","filled":true,"color":"#ff00ff","opacity":1,"size":729},
 "encoding":{
  "x":{"datum":{"year":2023,"month":5,"date":24,"utc":true},"type":"temporal","scale":{"type":"utc","domain":[{"year":2018,"month":12,"date":12,"utc":true},{"year":2023,"month":4,"date":16,"utc":true}]},"axis":null},
  "y":{"field":"p","type":"quantitative","scale":{"domain":[1.14108,1.44255],"nice":false,"zero":false},"axis":null}}},
{"data":{"name":"lv"},"transform":[{"filter":{"field":"p","oneOf":[1.4236,1.4155,1.3676,1.3271,1.2261,1.2166,1.3529,1.2754]}}],
 "mark":{"type":"text","align":"center","baseline":"middle","fontSize":6.3,"color":"#ffffff"},
 "encoding":{
  "x":{"datum":{"year":2023,"month":5,"date":24,"utc":true},"type":"temporal","scale":{"type":"utc","domain":[{"year":2018,"month":12,"date":12,"utc":true},{"year":2023,"month":4,"date":16,"utc":true}]},"axis":null},
  "y":{"field":"p","type":"quantitative","scale":{"domain":[1.14108,1.44255],"nice":false,"zero":false},"axis":null},
  "text":{"field":"p","type":"quantitative","format":".4f"}}},
{"data":{"name":"lv"},"transform":[{"filter":{"field":"p","oneOf":[1.3997,1.1950,1.1650]}}],
 "mark":{"type":"text","align":"center","baseline":"middle","fontSize":6.3,"color":"#333333"},
 "encoding":{
  "x":{"datum":{"year":2023,"month":5,"date":24,"utc":true},"type":"temporal","scale":{"type":"utc","domain":[{"year":2018,"month":12,"date":12,"utc":true},{"year":2023,"month":4,"date":16,"utc":true}]},"axis":null},
  "y":{"field":"p","type":"quantitative","scale":{"domain":[1.14108,1.44255],"nice":false,"zero":false},"axis":null},
  "text":{"field":"p","type":"quantitative","format":".4f"}}},
{"data":{"values":[{"t":"British Pound / U.S. Dollar · 1W · IDC · TradingView"}]},
 "mark":{"type":"text","align":"left","baseline":"middle","fontSize":6.8,"color":"#555555"},
 "encoding":{
  "x":{"datum":{"year":2018,"month":12,"date":18,"utc":true},"type":"temporal","scale":{"type":"utc","domain":[{"year":2018,"month":12,"date":12,"utc":true},{"year":2023,"month":4,"date":16,"utc":true}]},"axis":null},
  "y":{"datum":1.4365,"type":"quantitative","scale":{"domain":[1.14108,1.44255],"nice":false,"zero":false},"axis":null},
  "text":{"field":"t"}}},
{"data":{"values":[{"t":"O1.2103 H1.2165 L1.1960 C1.1969 −0.0125 (−1.03%)"}]},
 "mark":{"type":"text","align":"left","baseline":"middle","fontSize":6.5,"color":"#2f5fc8"},
 "encoding":{
  "x":{"datum":{"year":2020,"month":8,"date":18,"utc":true},"type":"temporal","scale":{"type":"utc","domain":[{"year":2018,"month":12,"date":12,"utc":true},{"year":2023,"month":4,"date":16,"utc":true}]},"axis":null},
  "y":{"datum":1.4365,"type":"quantitative","scale":{"domain":[1.14108,1.44255],"nice":false,"zero":false},"axis":null},
  "text":{"field":"t"}}},
{"data":{"values":[{"k":"flag"}]},
 "mark":{"type":"point","shape":"square","filled":true,"color":"#ff9800","size":22},
 "encoding":{
  "x":{"datum":{"year":2020,"month":5,"date":10,"utc":true},"type":"temporal","scale":{"type":"utc","domain":[{"year":2018,"month":12,"date":12,"utc":true},{"year":2023,"month":4,"date":16,"utc":true}]},"axis":null},
  "y":{"datum":1.4365,"type":"quantitative","scale":{"domain":[1.14108,1.44255],"nice":false,"zero":false},"axis":null}}},
{"data":{"values":[{"k":"dot"}]},
 "mark":{"type":"point","shape":"circle","filled":true,"color":"#0a9a82","size":14,"stroke":"#cfeee8","strokeWidth":2},
 "encoding":{
  "x":{"datum":{"year":2020,"month":6,"date":23,"utc":true},"type":"temporal","scale":{"type":"utc","domain":[{"year":2018,"month":12,"date":12,"utc":true},{"year":2023,"month":4,"date":16,"utc":true}]},"axis":null},
  "y":{"datum":1.4365,"type":"quantitative","scale":{"domain":[1.14108,1.44255],"nice":false,"zero":false},"axis":null}}},
{"data":{"values":[{"t":"USD ▾"}]},
 "mark":{"type":"text","align":"center","baseline":"middle","fontSize":6.5,"color":"#555555"},
 "encoding":{
  "x":{"datum":{"year":2023,"month":5,"date":24,"utc":true},"type":"temporal","scale":{"type":"utc","domain":[{"year":2018,"month":12,"date":12,"utc":true},{"year":2023,"month":4,"date":16,"utc":true}]},"axis":null},
  "y":{"datum":1.4372,"type":"quantitative","scale":{"domain":[1.14108,1.44255],"nice":false,"zero":false},"axis":null},
  "text":{"field":"t"}}},
{"data":{"values":[{"t":"⚙"}]},
 "mark":{"type":"text","align":"center","baseline":"middle","fontSize":8,"font":"DejaVu Sans","color":"#666666"},
 "encoding":{
  "x":{"datum":{"year":2023,"month":5,"date":24,"utc":true},"type":"temporal","scale":{"type":"utc","domain":[{"year":2018,"month":12,"date":12,"utc":true},{"year":2023,"month":4,"date":16,"utc":true}]},"axis":null},
  "y":{"datum":1.1355,"type":"quantitative","scale":{"domain":[1.14108,1.44255],"nice":false,"zero":false},"axis":null},
  "text":{"field":"t"}}}
]
}
